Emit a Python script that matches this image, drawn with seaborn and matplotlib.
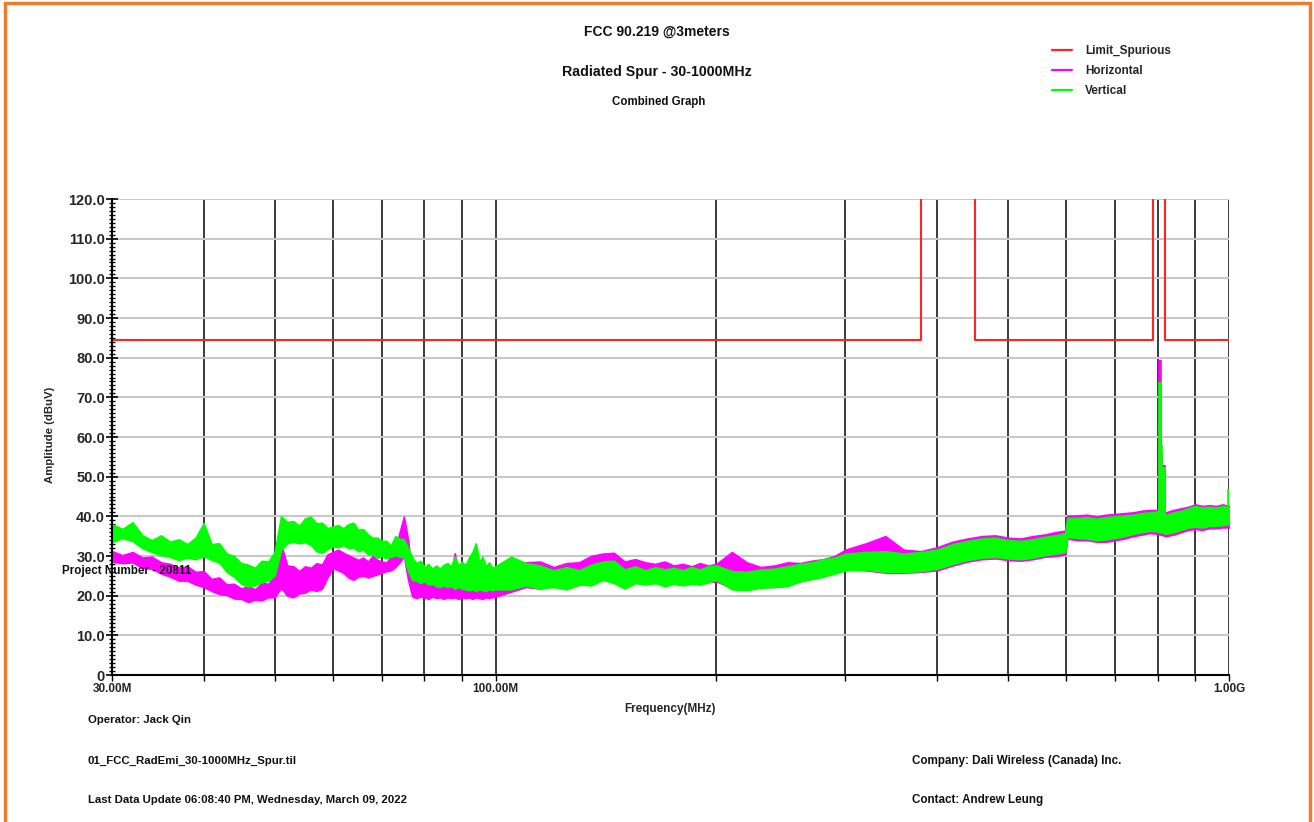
import numpy as np
import pandas as pd
import matplotlib
matplotlib.use("Agg")
import matplotlib.pyplot as plt
import seaborn as sns
from matplotlib.ticker import FixedLocator, FixedFormatter, MultipleLocator, NullFormatter
from matplotlib.patches import Rectangle
from matplotlib.lines import Line2D

# ---------------- data ----------------
# frequency grid (MHz) of the envelope readings
freq_mhz = [30, 31, 32, 33, 34, 35, 36, 37, 38, 39, 40, 41, 42, 43, 44, 45, 46, 47, 48, 49, 50,
            51, 52, 53, 54, 55, 56, 57, 58, 59, 60,
            61, 62, 63, 64, 65, 66, 67, 68, 69, 70,
            71, 72, 73, 74, 75, 76, 77, 78, 79, 80,
            81, 82, 83, 84, 85, 86, 87, 88, 89, 90,
            91, 92, 93, 94, 95, 96, 97, 98, 99, 100,
            105, 110, 115, 120, 125, 130, 135, 140, 145, 150, 155, 160, 165, 170, 175, 180, 185, 190, 195, 200,
            210, 220, 230, 240, 250, 260, 270, 280, 290, 300,
            320, 340, 360, 380, 400, 420, 440, 460, 480, 500, 520, 540, 560, 580,
            598, 602,
            620, 640, 660, 680, 700, 720, 740, 760, 780, 800, 820, 840, 860, 880, 900, 920, 940, 960, 980, 1000]

vert_low = [33.5, 34.5, 33.8, 32.0, 31.0, 30.2, 29.8, 29.0, 29.6, 29.2, 30.0, 29.0, 28.4, 26.0, 24.8, 23.0, 22.3, 22.6, 23.4, 23.8, 25.2,
            31.5, 33.2, 33.6, 33.2, 33.5, 32.8, 31.2, 30.8, 31.8, 32.5,
            32.2, 32.8, 32.0, 32.2, 31.2, 31.6, 30.4, 30.4, 29.6, 30.0,
            29.4, 29.8, 30.2, 29.8, 29.8, 26.2, 24.0, 23.8, 23.2, 23.6,
            22.8, 23.0, 22.4, 22.2, 22.6, 22.2, 22.4, 21.8, 22.2, 21.8,
            21.6, 21.4, 21.6, 21.2, 21.6, 21.4, 21.2, 21.6, 21.4, 21.6,
            21.6, 22.6, 21.8, 22.2, 21.6, 22.8, 22.6, 24.0, 23.2, 21.8, 23.2, 22.8, 23.2, 22.4, 23.0, 22.6, 23.0, 22.8, 23.4, 24.0,
            21.6, 21.4, 22.0, 22.2, 22.4, 23.6, 24.2, 24.8, 25.6, 26.4,
            26.6, 26.0, 26.0, 26.2, 26.8, 28.0, 29.0, 29.6, 29.8, 29.4, 29.2, 29.6, 30.2, 30.6,
            31.0, 34.8,
            34.6, 34.4, 34.0, 34.2, 34.6, 35.0, 35.6, 36.0, 36.4, 36.2, 35.6, 36.0, 36.6, 37.2, 37.4, 37.2, 37.6, 37.6, 37.8, 38.0]

vert_high = [38.0, 36.8, 38.5, 35.2, 34.0, 35.2, 33.6, 34.2, 33.0, 34.6, 38.3, 33.0, 33.2, 30.6, 30.0, 28.2, 27.8, 27.0, 28.8, 28.6, 31.0,
             40.0, 38.6, 38.8, 37.6, 39.5, 39.9, 38.2, 38.4, 37.0, 37.4,
             37.8, 37.0, 38.0, 38.4, 36.6, 36.8, 35.4, 34.6, 34.6, 33.8,
             33.8, 32.6, 35.0, 34.4, 34.2, 32.0, 29.6, 28.2, 28.8, 27.2,
             28.0, 26.8, 27.6, 26.8, 27.8, 28.2, 27.4, 29.8, 27.6, 28.6,
             27.6, 29.6, 31.0, 33.2, 28.6, 29.8, 27.4, 28.4, 27.0, 27.4,
             29.8, 28.2, 27.6, 26.4, 27.2, 26.4, 27.8, 28.6, 28.8, 26.6, 27.4, 26.4, 27.2, 26.6, 27.0, 26.4, 27.2, 26.6, 27.4, 27.6,
             26.2, 26.0, 26.6, 26.8, 27.4, 28.0, 28.4, 29.2, 29.6, 30.6,
             31.0, 31.2, 30.6, 31.0, 31.6, 33.0, 33.8, 34.4, 34.6, 34.0, 33.8, 34.2, 34.8, 35.2,
             35.8, 39.6,
             39.6, 39.8, 39.4, 39.8, 40.0, 40.2, 40.4, 40.8, 41.0, 41.2, 40.4, 41.0, 41.4, 42.0, 42.6, 42.2, 42.4, 42.2, 42.6, 42.2]

horiz_low = [28.6, 28.2, 28.4, 27.0, 26.8, 25.6, 24.8, 23.8, 23.8, 22.8, 22.2, 21.2, 20.4, 20.2, 19.3, 19.2, 18.4, 19.0, 18.8, 19.6, 19.6,
             22.0, 20.0, 19.6, 20.6, 20.8, 21.6, 21.2, 21.8, 24.6, 27.0,
             26.4, 25.8, 24.6, 24.0, 24.8, 25.0, 24.6, 25.0, 25.4, 25.8,
             26.2, 26.4, 27.2, 28.4, 30.0, 24.0, 19.8, 19.4, 19.8, 19.6,
             19.2, 19.8, 19.4, 19.6, 19.2, 19.6, 19.4, 19.6, 19.2, 19.6,
             19.4, 19.6, 19.2, 19.6, 19.4, 19.2, 19.6, 19.4, 19.6, 19.8,
             21.0, 22.2, 21.8, 22.4, 22.0, 22.8, 22.8, 24.2, 23.4, 22.4, 23.6, 23.2, 23.4, 22.8, 23.2, 22.8, 23.2, 23.0, 23.4, 23.6,
             22.0, 21.6, 22.2, 22.2, 22.6, 23.6, 24.4, 25.0, 25.8, 26.6,
             26.4, 25.8, 25.8, 26.0, 26.4, 27.6, 28.6, 29.2, 29.4, 29.0, 28.8, 29.2, 29.8, 30.0,
             30.4, 34.4,
             34.0, 34.0, 33.6, 33.6, 34.0, 34.4, 35.0, 35.4, 35.8, 35.6, 35.0, 35.4, 36.0, 36.6, 36.8, 36.6, 37.0, 37.0, 37.2, 37.2]

horiz_high = [31.2, 30.2, 31.0, 29.6, 29.8, 28.4, 28.0, 27.0, 27.4, 26.0, 26.2, 24.2, 24.6, 22.8, 23.0, 21.8, 22.4, 21.6, 23.2, 23.0, 25.0,
              33.0, 27.6, 27.4, 26.2, 27.4, 27.0, 28.2, 27.8, 30.4, 31.0,
              31.6, 30.8, 30.2, 29.6, 29.0, 29.6, 28.6, 30.0, 29.0, 28.6,
              28.4, 29.8, 31.4, 36.0, 39.9, 34.0, 24.6, 24.8, 24.0, 24.2,
              23.6, 23.2, 24.0, 23.0, 23.6, 24.2, 26.0, 30.7, 24.4, 24.0,
              23.6, 23.0, 23.8, 22.8, 23.4, 23.2, 24.0, 22.6, 23.4, 23.8,
              26.8, 28.4, 28.6, 27.2, 28.2, 28.4, 30.0, 30.6, 30.8, 28.6, 29.2, 28.4, 28.0, 28.6, 27.6, 28.0, 27.4, 28.2, 27.6, 28.0,
              31.0, 28.4, 27.2, 27.6, 28.4, 28.2, 28.8, 29.2, 30.0, 31.6,
              33.2, 35.0, 31.6, 31.2, 32.2, 33.6, 34.4, 35.0, 35.2, 34.6, 34.4, 35.0, 35.4, 36.0,
              36.4, 40.2,
              40.2, 40.4, 40.0, 40.4, 40.6, 40.8, 41.0, 41.4, 41.6, 41.6, 41.0, 41.6, 42.0, 42.4, 43.0, 42.6, 42.8, 42.6, 43.0, 42.6]

# narrow spikes (frequency, base, top)
spike_mhz = [804, 809, 816, 1000]
spike_base = [36.5, 36.5, 36.5, 38.0]
spike_horiz = [79.4, 56.0, 53.0, 42.5]
spike_vert = [73.9, 58.0, 52.5, 47.0]

# limit line (step shape, gaps run off the top of the chart)
limit_mhz = [30, 380, 380, 450, 450, 788, 788, 818, 818, 1000]
limit_dbuv = [84.4, 84.4, 130, 130, 84.4, 84.4, 130, 130, 84.4, 84.4]

y_ticks = [0, 10, 20, 30, 40, 50, 60, 70, 80, 90, 100, 110, 120]
y_tick_labels = ["0", "10.0", "20.0", "30.0", "40.0", "50.0", "60.0", "70.0", "80.0", "90.0",
                 "100.0", "110.0", "120.0"]
x_major = [30, 100, 1000]
x_major_labels = ["30.00M", "100.00M", "1.00G"]
x_minor = [40, 50, 60, 70, 80, 90, 200, 300, 400, 500, 600, 700, 800, 900]

# ---------------- style ----------------
sns.set_theme(style="white")
plt.rcParams['font.family'] = ['Liberation Sans', 'DejaVu Sans']
plt.rcParams['font.weight'] = 'bold'

RED = '#FF2424'
MAG = '#FF00FF'
GRN = '#00FF00'

W, H = 1314, 822
fig = plt.figure(figsize=(W / 100, H / 100), dpi=100)
fig.patch.set_facecolor('white')
ax = fig.add_axes([112 / W, 1 - 675 / H, 1117 / W, 476 / H])
ax.set_facecolor('white')
ax.set_xscale('log')

# traces
ax.fill_between(freq_mhz, horiz_low, horiz_high, color=MAG, lw=1.2, zorder=3)
ax.fill_between(freq_mhz, vert_low, vert_high, color=GRN, lw=1.2, zorder=4)
ax.vlines(spike_mhz, spike_base, spike_horiz, color=MAG, lw=2.6, zorder=3)
ax.vlines(spike_mhz, spike_base, spike_vert, color=GRN, lw=2.6, zorder=4)

limit_df = pd.DataFrame({'f': limit_mhz, 'a': limit_dbuv})
sns.lineplot(data=limit_df, x='f', y='a', sort=False, estimator=None, color=RED, lw=1.5, ax=ax, zorder=5)

ax.set_xlim(30, 1000)
ax.set_ylim(0, 120)

# grid & ticks
ax.set_axisbelow(True)
ax.xaxis.set_major_locator(FixedLocator(x_major))
ax.xaxis.set_major_formatter(FixedFormatter(x_major_labels))
ax.xaxis.set_minor_locator(FixedLocator(x_minor))
ax.xaxis.set_minor_formatter(NullFormatter())
ax.yaxis.set_major_locator(FixedLocator(y_ticks))
ax.yaxis.set_major_formatter(FixedFormatter(y_tick_labels))
ax.yaxis.set_minor_locator(MultipleLocator(1))
ax.grid(False)
ax.yaxis.grid(True, which='major', color='#c8c8c8', lw=1.5, zorder=0)
ax.xaxis.grid(True, which='both', color='#1a1a1a', lw=1.2, zorder=1)

for s in ['top', 'right']:
    ax.spines[s].set_visible(False)
for s in ['left', 'bottom']:
    ax.spines[s].set_visible(True)
    ax.spines[s].set_color('black')
    ax.spines[s].set_linewidth(1.5)
    ax.spines[s].set_zorder(6)

ax.tick_params(axis='y', which='major', direction='inout', length=8, width=1.2, color='black',
               labelsize=10.5, pad=1, left=True)
ax.tick_params(axis='y', which='minor', direction='inout', length=5, width=1.0, color='black', left=True)
ax.tick_params(axis='x', which='both', direction='out', length=4, width=1.0, color='black',
               labelsize=8.5, pad=2, bottom=True)
for lab in ax.get_yticklabels() + ax.get_xticklabels():
    lab.set_fontweight('bold')

ax.set_xlabel('Frequency(MHz)', fontsize=8.5, fontweight='bold')
ax.set_ylabel('Amplitude (dBuV)', fontsize=8.2, fontweight='bold')
ax.xaxis.set_label_coords((670 - 112) / 1117, -(703 - 675) / 476)
ax.yaxis.set_label_coords(-(112 - 55) / 1117, (675 - 435) / 476)

# page texts
def ftxt(x, y, s, size, ha='left'):
    fig.text(x / W, 1 - y / H, s, fontsize=size, fontweight='bold', ha=ha, va='center', color='#111111')

ftxt(657, 32, 'FCC 90.219 @3meters', 10, 'center')
ftxt(657, 72, 'Radiated Spur - 30-1000MHz', 10.2, 'center')
ftxt(659, 102, 'Combined Graph', 8.3, 'center')
ftxt(62, 571, 'Project Number - 20811', 8.4)
ftxt(88, 720, 'Operator: Jack Qin', 8.2)
ftxt(88, 761, '01_FCC_RadEmi_30-1000MHz_Spur.til', 8.2)
ftxt(88, 800, 'Last Data Update 06:08:40 PM, Wednesday, March 09, 2022', 8.2)
ftxt(912, 761, 'Company: Dali Wireless (Canada) Inc.', 8.4)
ftxt(912, 800, 'Contact: Andrew Leung', 8.4)

# legend
handles = [Line2D([], [], color=RED, lw=1.6), Line2D([], [], color=MAG, lw=1.6), Line2D([], [], color=GRN, lw=1.6)]
leg = fig.legend(handles, ['Limit_Spurious', 'Horizontal', 'Vertical'], loc='upper left',
                 bbox_to_anchor=(1052 / W, 1 - 45 / H), frameon=False, fontsize=8.5,
                 handlelength=1.7, handletextpad=1.1, labelspacing=0.67, borderaxespad=0, borderpad=0)
for t in leg.get_texts():
    t.set_fontweight('bold')

# orange page border
fig.add_artist(Rectangle((5 / W, -0.05), (1310 - 5) / W, (1 - 3 / H) + 0.05, transform=fig.transFigure,
                         fill=False, edgecolor='#EE7D2A', lw=2.5, zorder=10))

fig.savefig('out.png', dpi=100, facecolor='white')
